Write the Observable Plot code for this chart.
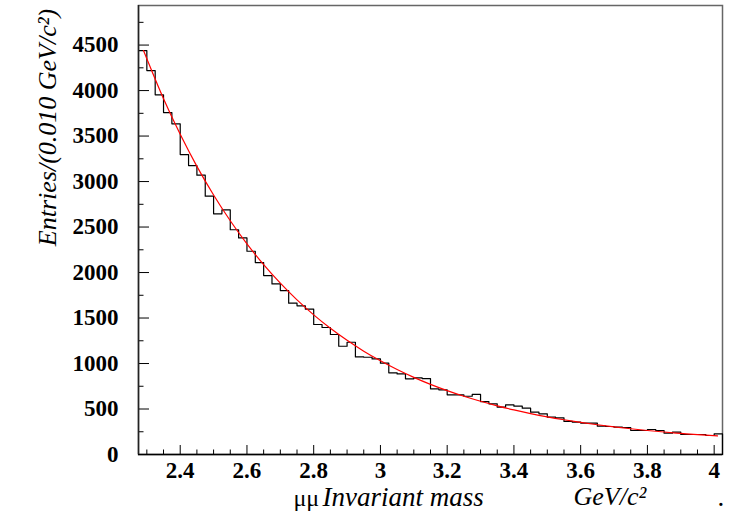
<!DOCTYPE html>
<html><head><meta charset="utf-8">
<script src="https://cdn.jsdelivr.net/npm/d3@7"></script>
<script src="https://cdn.jsdelivr.net/npm/@observablehq/plot@0.6"></script>
<style>body{margin:0;background:#fff}</style>
</head><body><div id="chart"></div>
<script>
// Histogram: 70 bins of 0.025 GeV/c^2 from 2.275 to 4.025
const binStart = 2.275;
const binWidth = 0.025;
const counts = [
  4440, 4220, 3953, 3758, 3634, 3297, 3176, 3070, 2839, 2645,
  2689, 2470, 2380, 2234, 2110, 1967, 1875, 1802, 1663, 1634,
  1597, 1429, 1396, 1319, 1190, 1234, 1073, 1069, 1051, 1004,
  898, 886, 832, 843, 835, 722, 711, 656, 656, 640,
  660, 582, 557, 520, 546, 531, 509, 465, 447, 410,
  403, 363, 355, 345, 344, 311, 308, 300, 297, 264,
  264, 275, 264, 234, 245, 220, 220, 220, 209, 227
];
// Fitted curve
const fitX = [2.29, 2.35, 2.40, 2.45, 2.50, 2.55, 2.60, 2.65, 2.70, 2.75, 2.80, 2.85, 2.90, 2.95, 3.00,
              3.05, 3.10, 3.15, 3.20, 3.25, 3.30, 3.35, 3.40, 3.45, 3.50, 3.55, 3.60, 3.65, 3.70,
              3.75, 3.80, 3.85, 3.90, 3.95, 4.01];
const fitY = [4440, 3910, 3519, 3167, 2852, 2569, 2315, 2087, 1883, 1699, 1535, 1387, 1255, 1136, 1030,
              934, 848, 771, 702, 640, 585, 535, 490, 450, 414, 382, 353, 327, 304,
              283, 264, 247, 232, 218, 204];
const xMajorTicks = [2.4, 2.6, 2.8, 3, 3.2, 3.4, 3.6, 3.8, 4];
const xMinorTicks = [2.3, 2.35, 2.45, 2.5, 2.55, 2.65, 2.7, 2.75, 2.85, 2.9, 2.95, 3.05, 3.1, 3.15,
                     3.25, 3.3, 3.35, 3.45, 3.5, 3.55, 3.65, 3.7, 3.75, 3.85, 3.9, 3.95];
const yMajorTicks = [0, 500, 1000, 1500, 2000, 2500, 3000, 3500, 4000, 4500];
const yMinorTicks = [250, 750, 1250, 1750, 2250, 2750, 3250, 3750, 4250, 4750];
const xDomain = [2.275, 4.025];
const yDomain = [0, 4935];
const yTitle = "Entries/(0.010 GeV/c\u00B2)";
const xTitleA = "\u03BC\u03BC";
const xTitleB = "Invariant mass";
const xUnit = "GeV/c\u00B2";

const histPts = counts.map((c, i) => ({x: binStart + i * binWidth, y: c}));
const xEnd = binStart + counts.length * binWidth;
histPts.push({x: xEnd, y: counts[counts.length - 1]});
histPts.push({x: xEnd, y: 0});
const fitPts = fitX.map((x, i) => ({x, y: fitY[i]}));

const serif = "'Liberation Serif', 'Times New Roman', serif";
const chart = Plot.plot({
  width: 732, height: 517,
  marginLeft: 138, marginRight: 10, marginTop: 5, marginBottom: 63,
  style: {fontFamily: serif, background: "#fff", color: "#000"},
  x: {domain: xDomain},
  y: {domain: yDomain},
  marks: [
    Plot.frame({stroke: "#666", strokeWidth: 1.5}),
    Plot.axisX(xMajorTicks, {tickSize: -9, fill: "none", label: null, stroke: "#000"}),
    Plot.axisX(xMinorTicks, {tickSize: -4.5, fill: "none", label: null, stroke: "#000"}),
    Plot.axisY(yMajorTicks, {tickSize: -11, fill: "none", label: null, stroke: "#000"}),
    Plot.axisY(yMinorTicks, {tickSize: -5.5, fill: "none", label: null, stroke: "#000"}),
    Plot.axisX(xMajorTicks, {tickSize: 0, tickPadding: 7, label: null, fontSize: 23, fontWeight: "bold", tickFormat: d => String(d)}),
    Plot.axisY(yMajorTicks, {tickSize: 0, tickPadding: 20, label: null, fontSize: 23, fontWeight: "bold", tickFormat: d => String(d)}),
    Plot.line(histPts, {x: "x", y: "y", curve: "step-after", stroke: "#000", strokeWidth: 1.2}),
    Plot.line(fitPts, {x: "x", y: "y", curve: "catmull-rom", stroke: "#ff0000", strokeWidth: 1.2}),
    Plot.ruleY([0], {stroke: "#000", strokeWidth: 1.5}),
    Plot.ruleX([xDomain[0]], {stroke: "#222", strokeWidth: 1.5}),
    Plot.text([yTitle], {text: d => d, frameAnchor: "top-left", dx: -101, dy: 122, rotate: -90, textAnchor: "middle", fontSize: 26, fontStyle: "italic"}),
    Plot.text([xTitleA], {text: d => d, frameAnchor: "bottom-left", dx: 155, dy: 51, textAnchor: "start", fontSize: 24}),
    Plot.text([xTitleB], {text: d => d, frameAnchor: "bottom-left", dx: 184, dy: 51, textAnchor: "start", fontSize: 27, fontStyle: "italic"}),
    Plot.text([xUnit], {text: d => d, frameAnchor: "bottom-left", dx: 435, dy: 50, textAnchor: "start", fontSize: 26, fontStyle: "italic"}),
    Plot.text(["."], {text: d => d, frameAnchor: "bottom-left", dx: 579, dy: 51, textAnchor: "start", fontSize: 27})
  ]
});
document.getElementById("chart").appendChild(chart);
</script>
</body></html>
